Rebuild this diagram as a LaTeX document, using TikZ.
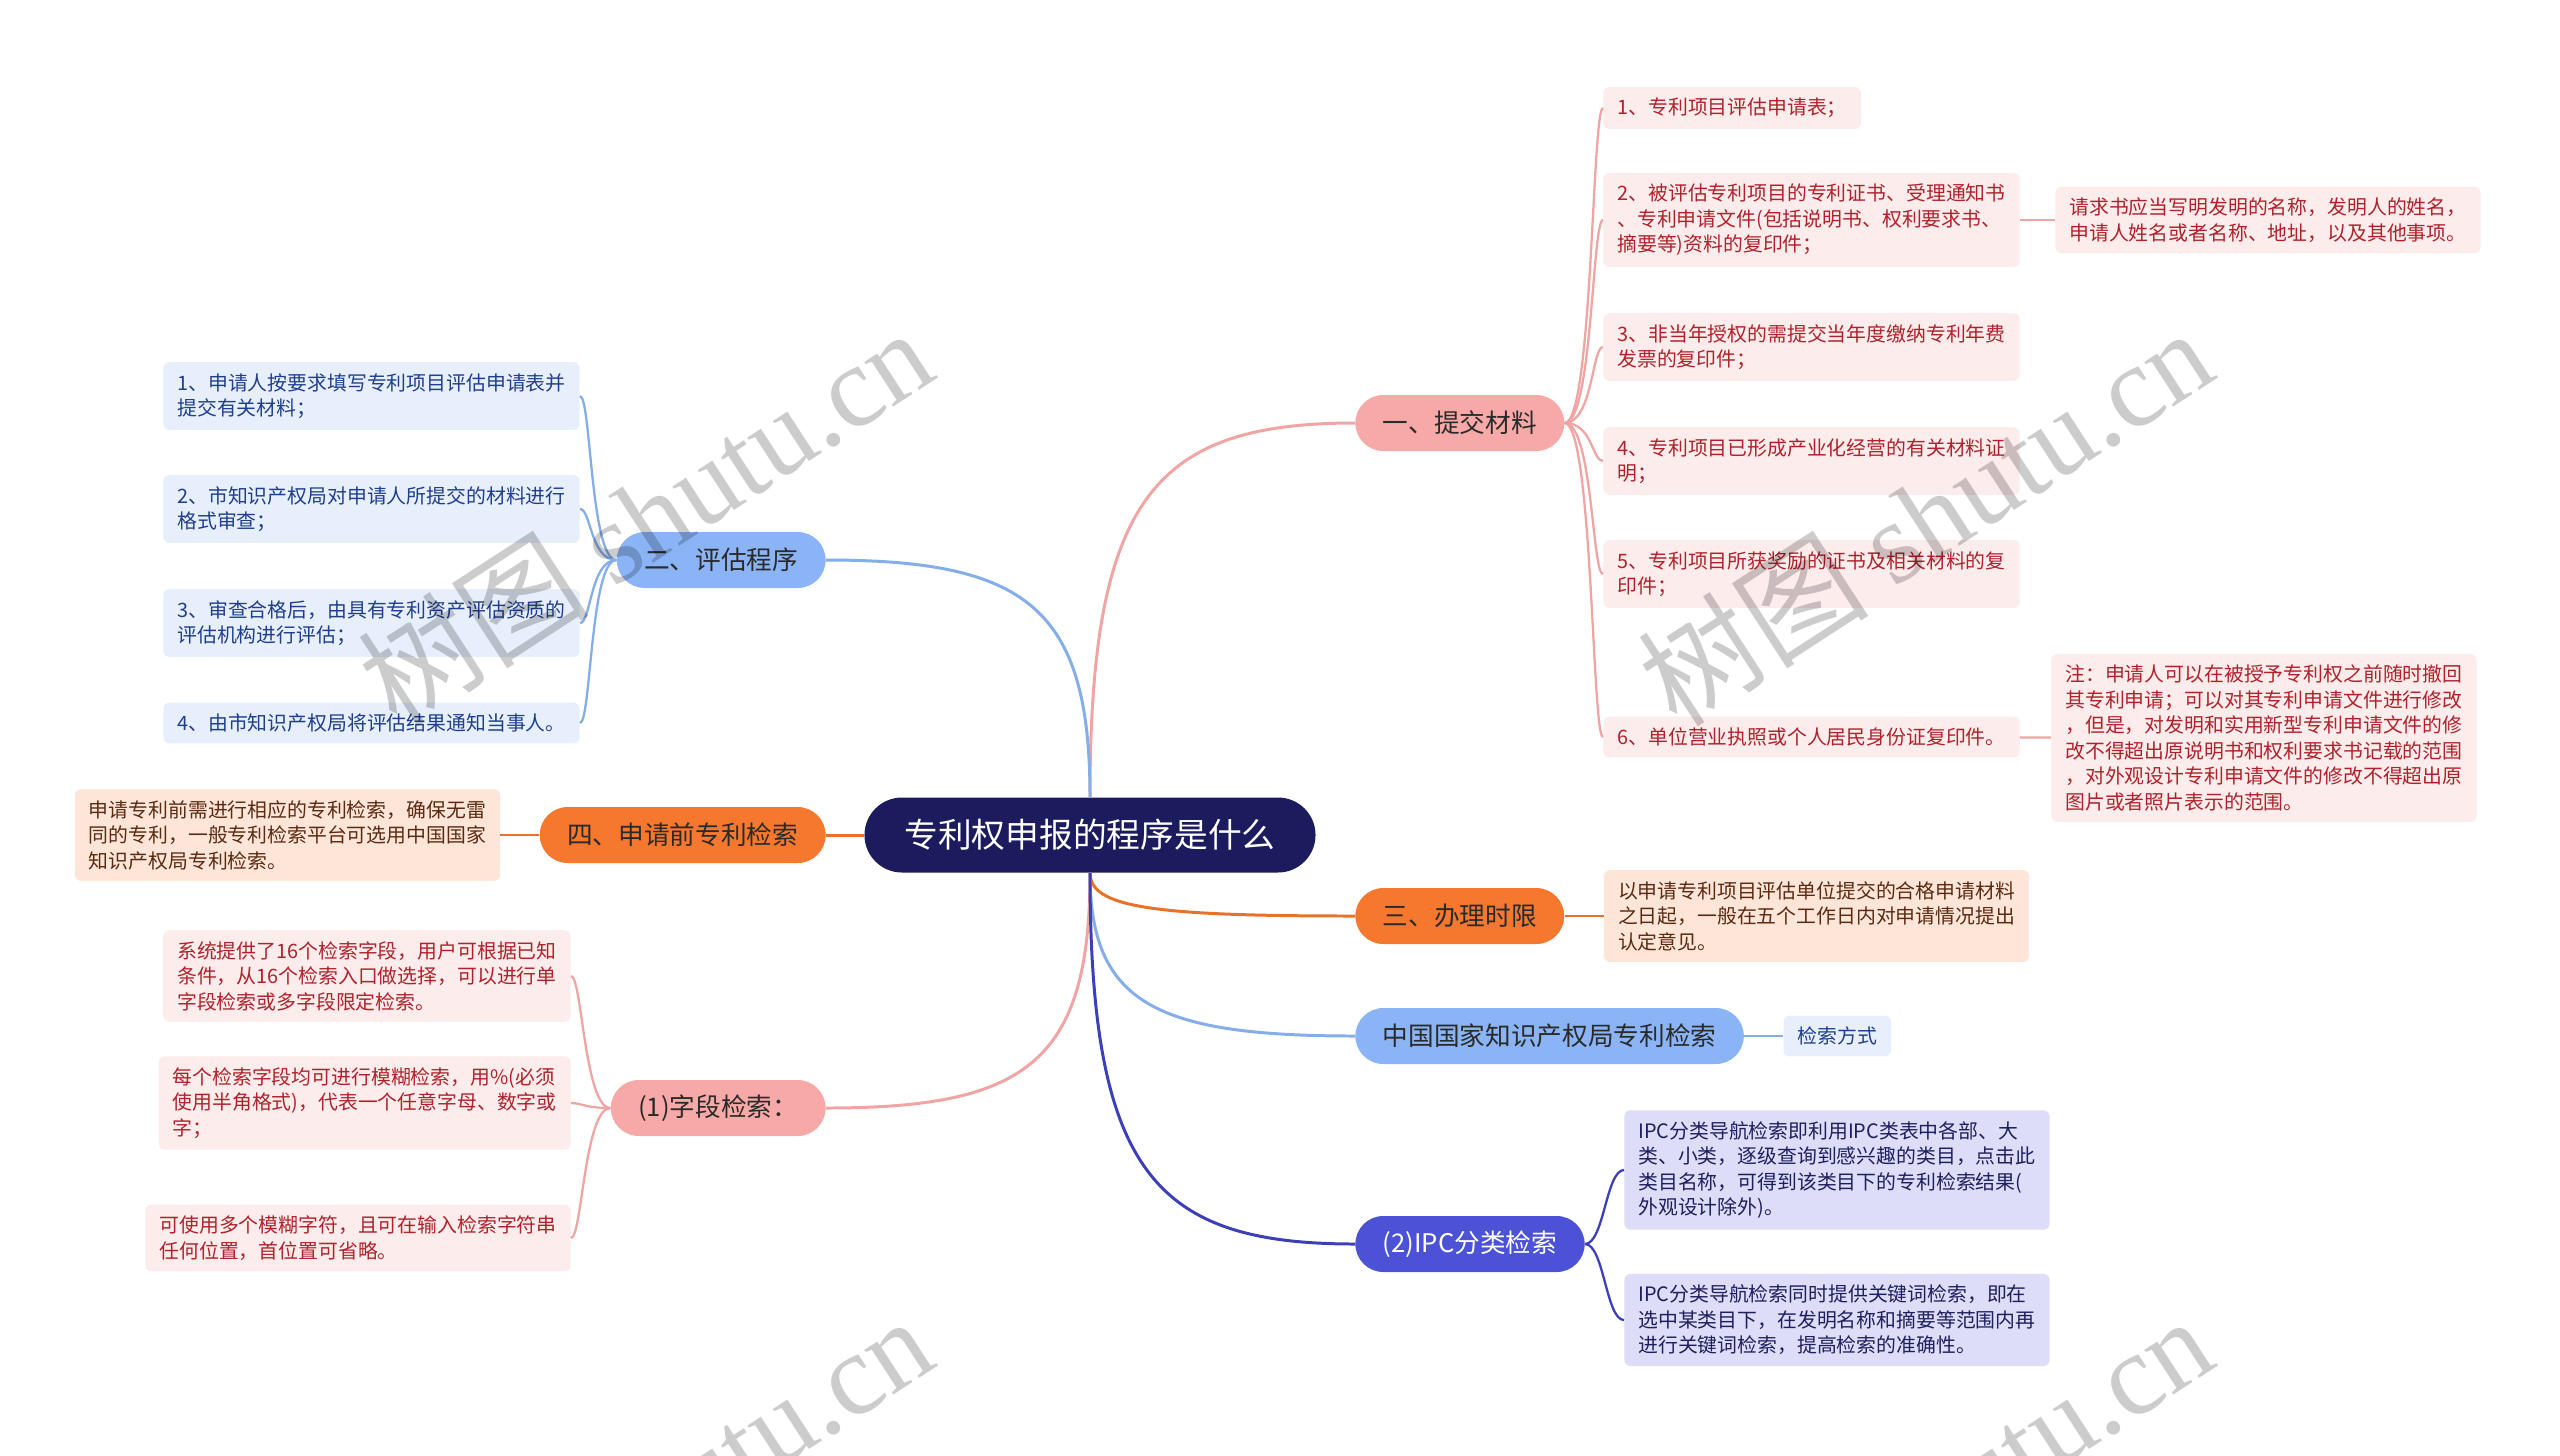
\documentclass[tikz,border=0pt]{standalone}
\usepackage{fontspec}
\setmainfont{Noto Sans CJK SC}
\newfontfamily\wmfont{Liberation Serif}
\usepackage{tikz}
\usetikzlibrary{positioning}

\definecolor{rootc}{HTML}{1B1B5E}
\definecolor{mtext}{HTML}{2A2A2A}
\definecolor{mpink}{HTML}{F7A9A8}
\definecolor{mblue}{HTML}{8AB4F5}
\definecolor{morange}{HTML}{F5782E}
\definecolor{mipc}{HTML}{4B52D6}
\definecolor{cpink}{HTML}{F0A5A4}
\definecolor{cblue}{HTML}{84AEEA}
\definecolor{corange}{HTML}{E8722A}
\definecolor{cipc}{HTML}{3C40B8}
\definecolor{fpink}{HTML}{FDECEC}
\definecolor{tpink}{HTML}{B0212B}
\definecolor{fblue}{HTML}{E8EFFC}
\definecolor{tblue}{HTML}{1E3F8F}
\definecolor{fpeach}{HTML}{FDE6D8}
\definecolor{tpeach}{HTML}{5C2A12}
\definecolor{fipc}{HTML}{DDDDF7}
\definecolor{tipc}{HTML}{1E1F5E}

\begin{document}
\begin{tikzpicture}[x=0.02cm, y=-0.02cm, node distance=0.78cm,
	root/.style={fill=rootc, text=white, rounded corners=0.75cm, minimum height=1.5cm, inner xsep=0.8cm, font=\fontsize{19.2}{22}\selectfont},
	main/.style={rounded corners=0.56cm, minimum height=1.12cm, inner xsep=0.55cm, text=mtext, font=\fontsize{14.6}{17}\selectfont},
	leaf/.style={rounded corners=0.12cm, inner xsep=8pt, inner ysep=6.3pt, align=left, font=\fontsize{11.3}{14.5}\selectfont},
	lpink/.style={leaf, fill=fpink, text=tpink},
	lblue/.style={leaf, fill=fblue, text=tblue},
	lpeach/.style={leaf, fill=fpeach, text=tpeach},
	lipc/.style={leaf, fill=fipc, text=tipc},
	link/.style={line width=1.7pt},
	twig/.style={line width=1.3pt},
	br/.style={out=0, in=180, out distance=0.56cm, in distance=0.22cm},
	bl/.style={out=180, in=0, out distance=0.52cm, in distance=0.22cm},
	wmark/.style={rotate=33, text=black, text opacity=0.2, font=\fontsize{66}{66}\selectfont}]
	\useasboundingbox (0,0) rectangle (2560,1455);
	\clip (0,0) rectangle (2560,1455);
	\fill[white] (0,0) rectangle (2560,1455);

	\node[root] (t0) at (1090,835) {专利权申报的程序是什么};
	\node[main, fill=mpink, anchor=west] (t1) at (1355,423) {一、提交材料};
	\node[main, fill=mblue, anchor=east] (t2) at (826,560) {二、评估程序};
	\node[main, fill=morange, anchor=east, minimum width=5.72cm] (t3) at (826,835) {四、申请前专利检索};
	\node[main, fill=morange, anchor=west] (t4) at (1355,916) {三、办理时限};
	\node[main, fill=mblue, anchor=west] (t5) at (1355,1036) {中国国家知识产权局专利检索};
	\node[main, fill=mpink, anchor=east] (t6) at (826,1108) {(1)字段检索：};
	\node[main, fill=mipc, text=white, anchor=west] (t7) at (1355,1244) {(2)IPC分类检索};

	\node[lpink, anchor=west] (t1a) at (1603,108) {1、专利项目评估申请表；};
	\node[lpink, anchor=west] (t1b) at (1603,220) {2、被评估专利项目的专利证书、受理通知书\\、专利申请文件(包括说明书、权利要求书、\\摘要等)资料的复印件；};
	\node[lpink, anchor=west] (t1c) at (1603,347) {3、非当年授权的需提交当年度缴纳专利年费\\发票的复印件；};
	\node[lpink, anchor=west] (t1d) at (1603,461) {4、专利项目已形成产业化经营的有关材料证\\明；};
	\node[lpink, anchor=west] (t1e) at (1603,574) {5、专利项目所获奖励的证书及相关材料的复\\印件；};
	\node[lpink, anchor=west] (t1f) at (1603,737) {6、单位营业执照或个人居民身份证复印件。};
	\node[lpink, anchor=west] (t1g) at (2055,220) {请求书应当写明发明的名称，发明人的姓名，\\申请人姓名或者名称、地址，以及其他事项。};
	\node[lpink, anchor=west] (t1h) at (2051,738) {注：申请人可以在被授予专利权之前随时撤回\\其专利申请；可以对其专利申请文件进行修改\\，但是，对发明和实用新型专利申请文件的修\\改不得超出原说明书和权利要求书记载的范围\\，对外观设计专利申请文件的修改不得超出原\\图片或者照片表示的范围。};

	\node[lblue, anchor=east] (t2a) at (580,396) {1、申请人按要求填写专利项目评估申请表并\\提交有关材料；};
	\node[lblue, anchor=east] (t2b) at (580,509) {2、市知识产权局对申请人所提交的材料进行\\格式审查；};
	\node[lblue, anchor=east] (t2c) at (580,623) {3、审查合格后，由具有专利资产评估资质的\\评估机构进行评估；};
	\node[lblue, anchor=east] (t2d) at (580,723) {4、由市知识产权局将评估结果通知当事人。};

	\node[lpeach, left=of t3] (t3a) {申请专利前需进行相应的专利检索，确保无雷\\同的专利，一般专利检索平台可选用中国国家\\知识产权局专利检索。};
	\node[lpeach, right=of t4] (t4a) {以申请专利项目评估单位提交的合格申请材料\\之日起，一般在五个工作日内对申请情况提出\\认定意见。};
	\node[lblue, right=of t5] (t5a) {检索方式};

	\node[lpink, anchor=east] (t6a) at (571,976) {系统提供了16个检索字段，用户可根据已知\\条件，从16个检索入口做选择，可以进行单\\字段检索或多字段限定检索。};
	\node[lpink, anchor=east] (t6b) at (571,1103) {每个检索字段均可进行模糊检索，用\%(必须\\使用半角格式)，代表一个任意字母、数字或\\字；};
	\node[lpink, anchor=east] (t6c) at (571,1238) {可使用多个模糊字符，且可在输入检索字符串\\任何位置，首位置可省略。};

	\node[lipc, anchor=west] (t7a) at (1624,1170) {IPC分类导航检索即利用IPC类表中各部、大\\类、小类，逐级查询到感兴趣的类目，点击此\\类目名称，可得到该类目下的专利检索结果(\\外观设计除外)。};
	\node[lipc, anchor=west] (t7b) at (1624,1320) {IPC分类导航检索同时提供关键词检索，即在\\选中某类目下，在发明名称和摘要等范围内再\\进行关键词检索，提高检索的准确性。};

	\draw[link, cpink] (t0) edge[out=90, in=180, out distance=6cm, in distance=4cm] (t1);
	\draw[link, cblue] (t0) edge[out=90, in=0, out distance=3.8cm, in distance=4cm] (t2);
	\draw[link, corange] (t0) edge (t3);
	\draw[link, corange] (t0) edge[out=-90, in=180, out distance=0.7cm, in distance=4cm] (t4);
	\draw[link, cblue] (t0) edge[out=-90, in=180, out distance=2.6cm, in distance=4cm] (t5);
	\draw[link, cpink] (t0) edge[out=-90, in=0, out distance=3.8cm, in distance=4cm] (t6);
	\draw[link, cipc] (t0) edge[out=-90, in=180, out distance=6cm, in distance=4cm] (t7);

	\draw[twig, cpink] (t1) edge[br] (t1a) edge[br] (t1b) edge[br] (t1c) edge[br] (t1d) edge[br] (t1e) edge[br] (t1f);
	\draw[twig, cpink] (t1b) edge (t1g);
	\draw[twig, cpink] (t1f) edge (t1h);
	\draw[twig, cblue] (t2) edge[bl] (t2a) edge[bl] (t2b) edge[bl] (t2c) edge[bl] (t2d);
	\draw[twig, corange] (t3) edge (t3a);
	\draw[twig, corange] (t4) edge (t4a);
	\draw[twig, cblue] (t5) edge (t5a);
	\draw[twig, cpink] (t6) edge[bl] (t6a) edge[bl] (t6b) edge[bl] (t6c);
	\draw[twig, cipc] (t7) edge[br, out distance=0.38cm, in distance=0.36cm] (t7a) edge[br, out distance=0.38cm, in distance=0.36cm] (t7b);

	\foreach \wx/\wy [count=\i] in {645/516, 1925/516, 645/1504, 1925/1504}
		\node[wmark] (w\i) at (\wx,\wy) {树图 {\wmfont shutu.cn}};
\end{tikzpicture}
\end{document}
